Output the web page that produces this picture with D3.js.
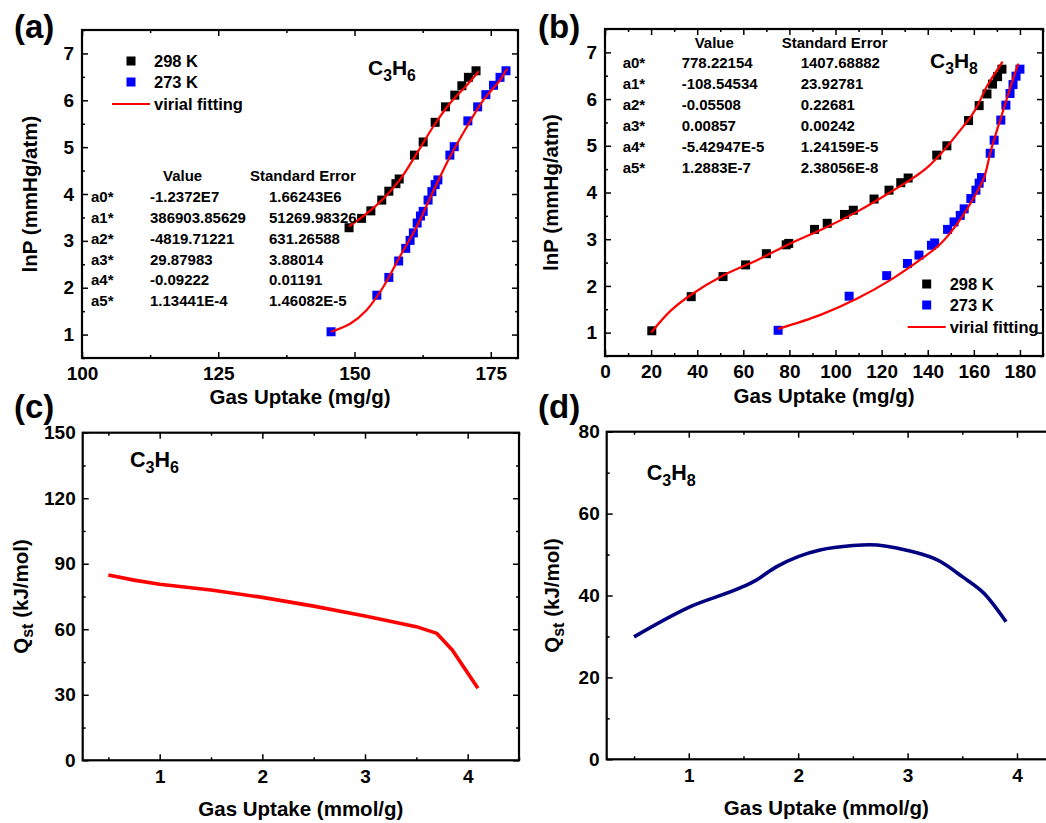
<!DOCTYPE html>
<html>
<head>
<meta charset="utf-8">
<script src="https://cdn.jsdelivr.net/npm/d3@7"></script>
<style>
  body { margin: 0; background: #fff; }
  svg { font-family: "Liberation Sans", Arial, sans-serif; font-weight: bold; }
  .tick text { font-family: "Liberation Sans", Arial, sans-serif; font-weight: bold; font-size: 19px; fill: #000; }
  .tick line { stroke: #000; stroke-width: 1.5; }
</style>
</head>
<body>
<div id="chart"></div>
<script>
// C3H6 isotherms, uptake (mg/g) vs lnP
const c3h6At298 = [[149.0,3.28],[151.3,3.48],[153.0,3.64],[155.0,3.87],[156.3,4.06],[157.6,4.22],[158.2,4.32],[161.0,4.83],[162.6,5.11],[164.8,5.53],[166.7,5.86],[168.4,6.11],[169.7,6.31],[170.9,6.49],[172.3,6.63]];
const c3h6At273 = [[145.7,1.06],[154.1,1.84],[156.3,2.22],[158.1,2.57],[159.4,2.84],[160.2,3.01],[160.8,3.17],[161.5,3.38],[162.1,3.53],[162.6,3.63],[163.5,3.87],[164.2,4.05],[164.8,4.20],[165.3,4.30],[167.5,4.83],[168.3,5.01],[170.8,5.56],[172.6,5.86],[174.1,6.12],[175.5,6.32],[176.7,6.49],[177.8,6.63]];
const c3h6Fit298 = [[149.0,3.31],[152.2,3.58],[155.3,3.90],[158.3,4.30],[161.4,4.86],[164.4,5.43],[167.5,5.93],[170.6,6.32],[172.8,6.62]];
const c3h6Fit273 = [[145.7,1.06],[149.2,1.23],[152.2,1.52],[155.3,2.02],[158.3,2.66],[161.4,3.30],[164.4,4.05],[167.5,4.79],[170.6,5.43],[173.6,6.00],[176.7,6.43],[178.0,6.68]];

// C3H8 isotherms
const c3h8At298 = [[20.3,1.04],[37.4,1.77],[51.2,2.20],[61.0,2.45],[70.0,2.69],[78.6,2.88],[79.7,2.91],[90.9,3.21],[96.4,3.34],[103.9,3.53],[107.7,3.62],[116.7,3.86],[123.2,4.05],[128.3,4.21],[131.5,4.31],[143.9,4.80],[148.3,5.00],[157.7,5.54],[162.3,5.86],[165.7,6.11],[168.1,6.32],[170.3,6.48],[172.2,6.64]];
const c3h8At273 = [[75.1,1.05],[105.9,1.78],[122.2,2.22],[131.2,2.48],[136.2,2.66],[141.6,2.87],[143.0,2.92],[148.6,3.21],[151.4,3.37],[154.1,3.51],[155.8,3.65],[158.7,3.87],[160.9,4.05],[162.3,4.20],[163.3,4.32],[167.1,4.84],[168.8,5.12],[171.7,5.55],[173.9,5.87],[175.7,6.12],[177.0,6.31],[178.3,6.49],[180.0,6.64]];
const c3h8Fit298 = [[20,1.0],[28.3,1.46],[37,1.80],[51.4,2.23],[65.9,2.55],[80.4,2.91],[94.9,3.23],[109.4,3.59],[123.9,4.01],[138.4,4.48],[145.7,4.83],[152.9,5.26],[160,5.72],[166,6.30],[172.5,6.80]];
const c3h8Fit273 = [[75.1,1.08],[93.5,1.38],[109.4,1.73],[123.9,2.13],[138.4,2.62],[145.7,2.91],[152.9,3.34],[160.1,3.90],[164.5,4.33],[167.4,4.90],[173.2,5.83],[176.5,6.35],[179.3,6.76]];

// isosteric heats, uptake (mmol/g) vs Qst (kJ/mol)
const c3h6Qst = [[0.5,84.8],[0.75,82.5],[1,80.6],[1.5,78.0],[2,74.6],[2.5,70.6],[3,66.1],[3.5,61.2],[3.7,58.1],[3.85,50.5],[4.1,33.0]];
const c3h8Qst = [[0.5,29.9],[1,37.1],[1.5,42.2],[1.6,43.5],[1.8,47.0],[2,49.5],[2.2,51.1],[2.5,52.2],[2.65,52.4],[3,51.0],[3.3,48.3],[3.5,44.6],[3.7,40.5],[3.9,33.6]];

// virial fit parameters
const fitParams = ["a0*", "a1*", "a2*", "a3*", "a4*", "a5*"];
const c3h6Values = ["-1.2372E7", "386903.85629", "-4819.71221", "29.87983", "-0.09222", "1.13441E-4"];
const c3h6Errors = ["1.66243E6", "51269.98326", "631.26588", "3.88014", "0.01191", "1.46082E-5"];
const c3h8Values = ["778.22154", "-108.54534", "-0.05508", "0.00857", "-5.42947E-5", "1.2883E-7"];
const c3h8Errors = ["1407.68882", "23.92781", "0.22681", "0.00242", "1.24159E-5", "2.38056E-8"];

const seriesNames = ["298 K", "273 K", "virial fitting"];

const svg = d3.select("#chart").append("svg")
  .attr("width", 1046)
  .attr("height", 823);

function drawPanel(opt) {
  const w = opt.xRange || (opt.box[2] - opt.box[0]);
  const h = opt.box[3] - opt.box[1];
  const g = svg.append("g").attr("transform", `translate(${opt.box[0]},${opt.box[1]})`);
  const x = d3.scaleLinear().domain(opt.xDomain).range([0, w]);
  const y = d3.scaleLinear().domain(opt.yDomain).range([h, 0]);

  const xMajor = d3.range(opt.xTicks[0], opt.xDomain[1] + 1e-9, opt.xTicks[1]);
  const xMinor = d3.range(opt.xMinor[0], opt.xDomain[1] + 1e-9, opt.xMinor[1]);
  const yMajor = d3.range(opt.yTicks[0], opt.yDomain[1] + 1e-9, opt.yTicks[1]);
  const yMinor = d3.range(opt.yMinor[0], opt.yDomain[1] + 1e-9, opt.yMinor[1]);

  // inward ticks on all four sides, labels only bottom and left
  const axes = [
    [d3.axisBottom(x), `translate(0,${h})`, xMajor, xMinor, opt.padX],
    [d3.axisTop(x), "translate(0,0)", xMajor, xMinor, 0],
    [d3.axisLeft(y), "translate(0,0)", yMajor, yMinor, opt.padY],
    [d3.axisRight(y), `translate(${w},0)`, yMajor, yMinor, 0]
  ];
  axes.forEach(([ax, tr, major, minor, pad]) => {
    g.append("g").attr("transform", tr)
      .call(ax.tickValues(minor).tickSize(-3).tickFormat(""))
      .call(s => s.select(".domain").remove());
    g.append("g").attr("transform", tr)
      .call(ax.tickValues(major).tickSize(-6).tickPadding(pad)
        .tickFormat(pad ? d3.format("d") : ""))
      .call(s => s.select(".domain").remove());
  });

  g.append("rect")
    .attr("width", w)
    .attr("height", h)
    .attr("fill", "none")
    .attr("stroke", "#000")
    .attr("stroke-width", 2.2);

  // axis titles
  g.append("text")
    .attr("x", (opt.box[2] - opt.box[0]) / 2).attr("y", h + opt.xTitleY)
    .attr("text-anchor", "middle")
    .attr("font-size", 20.5)
    .text(opt.xTitle);
  const yt = g.append("text")
    .attr("transform", `translate(${opt.yTitleX},${h / 2}) rotate(-90)`)
    .attr("text-anchor", "middle")
    .attr("font-size", 20.5);
  opt.yTitle(yt);

  svg.append("text")
    .attr("x", opt.tag[1]).attr("y", opt.tag[2])
    .attr("font-size", 33)
    .text(opt.tag[0]);

  return { g, x, y, w, h };
}

function formula(sel, x, yb, size, sub1, sub2) {
  const t = sel.append("text").attr("x", x).attr("y", yb).attr("font-size", size);
  t.append("tspan").text("C");
  t.append("tspan").attr("dy", size * 0.3).attr("font-size", size * 0.75).text(sub1);
  t.append("tspan").attr("dy", -size * 0.3).text("H");
  t.append("tspan").attr("dy", size * 0.3).attr("font-size", size * 0.75).text(sub2);
}

function drawIsotherm(p, pts298, pts273, fit298, fit273) {
  const line = d3.line().x(d => p.x(d[0])).y(d => p.y(d[1])).curve(d3.curveCatmullRom.alpha(0.5));
  [[pts298, "#000"], [pts273, "#0000ff"]].forEach(([pts, col]) => {
    p.g.append("g").selectAll("rect")
      .data(pts)
      .enter()
      .append("rect")
      .attr("x", d => p.x(d[0]) - 4.5)
      .attr("y", d => p.y(d[1]) - 4.5)
      .attr("width", 9)
      .attr("height", 9)
      .attr("fill", col);
  });
  [fit298, fit273].forEach(f => {
    p.g.append("path")
      .attr("d", line(f))
      .attr("fill", "none")
      .attr("stroke", "#ff0000")
      .attr("stroke-width", 2.2);
  });
}

function drawTable(p, x0, yHead, yRow0, values, errors) {
  const t = p.g.append("g").attr("font-size", 15);
  t.append("text").attr("x", x0 + 72).attr("y", yHead).text("Value");
  t.append("text").attr("x", x0 + 159).attr("y", yHead).text("Standard Error");
  fitParams.forEach((name, i) => {
    const yy = yRow0 + i * 20.85;
    t.append("text").attr("x", x0).attr("y", yy).text(name);
    t.append("text").attr("x", x0 + 59).attr("y", yy).text(values[i]);
    t.append("text").attr("x", x0 + 178).attr("y", yy).text(errors[i]);
  });
}

function drawLegend(p, lx, ly) {
  const l = p.g.append("g").attr("font-size", 16.5);
  ["#000", "#0000ff"].forEach((col, i) => {
    l.append("rect")
      .attr("x", lx - 4.5).attr("y", ly + i * 21 - 4.5)
      .attr("width", 9).attr("height", 9)
      .attr("fill", col);
    l.append("text").attr("x", lx + 23).attr("y", ly + i * 21 + 6).text(seriesNames[i]);
  });
  l.append("line")
    .attr("x1", lx - 19).attr("x2", lx + 19)
    .attr("y1", ly + 43).attr("y2", ly + 43)
    .attr("stroke", "#ff0000").attr("stroke-width", 2.2);
  l.append("text").attr("x", lx + 23).attr("y", ly + 49).text(seriesNames[2]);
}

const lnPTitle = t => t.text("lnP (mmHg/atm)");
const qstTitle = t => {
  t.append("tspan").text("Q");
  t.append("tspan").attr("dy", 5).attr("font-size", 16).text("st");
  t.append("tspan").attr("dy", -5).text(" (kJ/mol)");
};

// (a) C3H6 isotherms
const pa = drawPanel({
  box: [82, 30, 518, 358],
  xDomain: [100, 180], yDomain: [0.5, 7.5],
  xTicks: [100, 25], xMinor: [112.5, 25],
  yTicks: [1, 1], yMinor: [0.5, 1],
  padX: 8.5, padY: 8, xTitle: "Gas Uptake (mg/g)", xTitleY: 46, yTitleX: -45,
  yTitle: lnPTitle, tag: ["(a)", 14, 38]
});
drawIsotherm(pa, c3h6At298, c3h6At273, c3h6Fit298, c3h6Fit273);
drawTable(pa, 9, 150.7, 172, c3h6Values, c3h6Errors);
drawLegend(pa, 49, 31);
formula(pa.g, 286, 45, 21, "3", "6");

// (b) C3H8 isotherms
const pb = drawPanel({
  box: [605, 29, 1043, 356],
  xDomain: [0, 190], yDomain: [0.5, 7.5],
  xTicks: [0, 20], xMinor: [10, 20],
  yTicks: [1, 1], yMinor: [0.5, 1],
  padX: 8.5, padY: 8, xTitle: "Gas Uptake (mg/g)", xTitleY: 47, yTitleX: -47,
  yTitle: lnPTitle, tag: ["(b)", 538, 38]
});
drawIsotherm(pb, c3h8At298, c3h8At273, c3h8Fit298, c3h8Fit273);
drawTable(pb, 17.7, 18.7, 39.3, c3h8Values, c3h8Errors);
drawLegend(pb, 321.7, 255);
formula(pb.g, 325, 39, 21, "3", "8");

// (c) C3H6 heat of adsorption, sharp break near 3.7 mmol/g
const pc = drawPanel({
  box: [82.7, 432.7, 519, 760.3],
  xDomain: [0.25, 4.5], yDomain: [0, 150],
  xTicks: [1, 1], xMinor: [0.5, 1],
  yTicks: [0, 30], yMinor: [15, 30],
  padX: 9, padY: 7, xTitle: "Gas Uptake (mmol/g)", xTitleY: 56, yTitleX: -55,
  yTitle: qstTitle, tag: ["(c)", 14, 418]
});
pc.g.append("path")
  .attr("d", d3.line().x(d => pc.x(d[0])).y(d => pc.y(d[1])).curve(d3.curveLinear)(c3h6Qst))
  .attr("fill", "none").attr("stroke", "#ff0000").attr("stroke-width", 3.6)
  .attr("stroke-linejoin", "round");
formula(pc.g, 47.3, 34, 21.5, "3", "6");

// (d) C3H8 heat of adsorption
const pd = drawPanel({
  box: [606.7, 431.7, 1046, 759.3],
  xRange: 465,
  xDomain: [0.25, 4.5], yDomain: [0, 80],
  xTicks: [1, 1], xMinor: [0.5, 1],
  yTicks: [0, 20], yMinor: [10, 20],
  padX: 9, padY: 7, xTitle: "Gas Uptake (mmol/g)", xTitleY: 56, yTitleX: -48,
  yTitle: qstTitle, tag: ["(d)", 538, 418]
});
pd.g.append("path")
  .attr("d", d3.line().x(d => pd.x(d[0])).y(d => pd.y(d[1])).curve(d3.curveMonotoneX)(c3h8Qst))
  .attr("fill", "none").attr("stroke", "#000080").attr("stroke-width", 3.6);
formula(pd.g, 40, 48, 21.5, "3", "8");
</script>
</body>
</html>
